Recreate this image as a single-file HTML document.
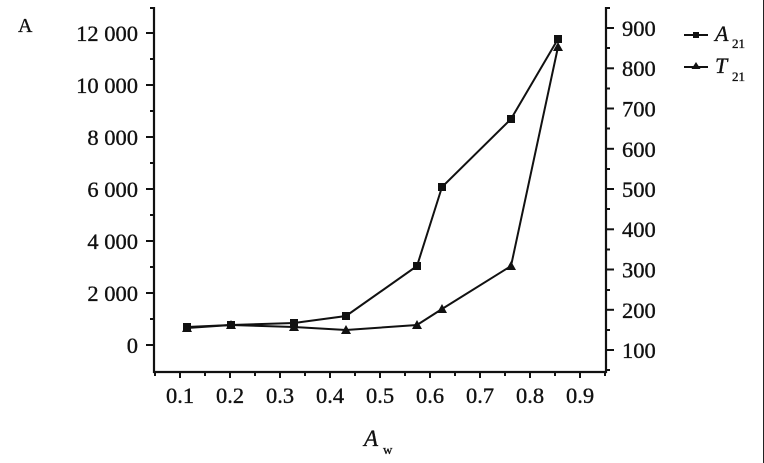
<!DOCTYPE html>
<html><head><meta charset="utf-8"><style>
html,body{margin:0;padding:0;background:#fff;}
svg{display:block;}
text{font-family:"Liberation Serif",serif;fill:#111;stroke:#111;stroke-width:0.35px;}
</style></head><body>
<svg width="764" height="463" viewBox="0 0 764 463" xmlns="http://www.w3.org/2000/svg">
<rect x="0" y="0" width="764" height="463" fill="#fff"/>
<line x1="763.5" y1="0" x2="763.5" y2="463" stroke="#222" stroke-width="1"/>
<text x="18" y="32" font-size="20">A</text>
<g stroke="#111" stroke-width="2.2" fill="none">
<line x1="154" y1="7" x2="154" y2="373"/>
<line x1="606" y1="7" x2="606" y2="373"/>
<line x1="153" y1="372" x2="607" y2="372"/>
</g>
<g stroke="#111" stroke-width="2">
<line x1="146" y1="345" x2="154" y2="345"/><line x1="146" y1="293" x2="154" y2="293"/><line x1="146" y1="241" x2="154" y2="241"/><line x1="146" y1="189" x2="154" y2="189"/><line x1="146" y1="137" x2="154" y2="137"/><line x1="146" y1="85" x2="154" y2="85"/><line x1="146" y1="33" x2="154" y2="33"/>
<line x1="150" y1="319" x2="154" y2="319"/><line x1="150" y1="267" x2="154" y2="267"/><line x1="150" y1="215" x2="154" y2="215"/><line x1="150" y1="163" x2="154" y2="163"/><line x1="150" y1="111" x2="154" y2="111"/><line x1="150" y1="59" x2="154" y2="59"/><line x1="150" y1="8" x2="154" y2="8"/>
<line x1="606" y1="350" x2="614" y2="350"/><line x1="606" y1="309.8" x2="614" y2="309.8"/><line x1="606" y1="269.5" x2="614" y2="269.5"/><line x1="606" y1="229.3" x2="614" y2="229.3"/><line x1="606" y1="189" x2="614" y2="189"/><line x1="606" y1="148.8" x2="614" y2="148.8"/><line x1="606" y1="108.5" x2="614" y2="108.5"/><line x1="606" y1="68.3" x2="614" y2="68.3"/><line x1="606" y1="28" x2="614" y2="28"/>
<line x1="606" y1="370" x2="610" y2="370"/><line x1="606" y1="330" x2="610" y2="330"/><line x1="606" y1="290" x2="610" y2="290"/><line x1="606" y1="249.5" x2="610" y2="249.5"/><line x1="606" y1="209" x2="610" y2="209"/><line x1="606" y1="169" x2="610" y2="169"/><line x1="606" y1="128.5" x2="610" y2="128.5"/><line x1="606" y1="88.5" x2="610" y2="88.5"/><line x1="606" y1="48" x2="610" y2="48"/><line x1="606" y1="8" x2="610" y2="8"/>
<line x1="180" y1="372" x2="180" y2="378"/><line x1="230" y1="372" x2="230" y2="378"/><line x1="280" y1="372" x2="280" y2="378"/><line x1="330" y1="372" x2="330" y2="378"/><line x1="380" y1="372" x2="380" y2="378"/><line x1="430" y1="372" x2="430" y2="378"/><line x1="480" y1="372" x2="480" y2="378"/><line x1="530" y1="372" x2="530" y2="378"/><line x1="580" y1="372" x2="580" y2="378"/>
<line x1="155" y1="372" x2="155" y2="376"/><line x1="205" y1="372" x2="205" y2="376"/><line x1="255" y1="372" x2="255" y2="376"/><line x1="305" y1="372" x2="305" y2="376"/><line x1="355" y1="372" x2="355" y2="376"/><line x1="405" y1="372" x2="405" y2="376"/><line x1="455" y1="372" x2="455" y2="376"/><line x1="505" y1="372" x2="505" y2="376"/><line x1="555" y1="372" x2="555" y2="376"/><line x1="605" y1="372" x2="605" y2="376"/>
</g>
<g font-size="22.5" text-anchor="end">
<text x="138" y="353">0</text>
<text x="138" y="301">2 000</text>
<text x="138" y="249">4 000</text>
<text x="138" y="197">6 000</text>
<text x="138" y="145">8 000</text>
<text x="138" y="93">10 000</text>
<text x="138" y="41">12 000</text>
</g>
<g font-size="22.5">
<text x="622" y="358">100</text>
<text x="622" y="318">200</text>
<text x="622" y="277.5">300</text>
<text x="622" y="237">400</text>
<text x="622" y="197">500</text>
<text x="622" y="157">600</text>
<text x="622" y="116.5">700</text>
<text x="622" y="76">800</text>
<text x="622" y="36">900</text>
</g>
<g font-size="22.5" text-anchor="middle">
<text x="180" y="403">0.1</text><text x="230" y="403">0.2</text><text x="280" y="403">0.3</text><text x="330" y="403">0.4</text><text x="380" y="403">0.5</text><text x="430" y="403">0.6</text><text x="480" y="403">0.7</text><text x="530" y="403">0.8</text><text x="580" y="403">0.9</text>
</g>
<text x="364" y="446" font-size="23" font-style="italic">A</text>
<text x="383" y="454" font-size="13">w</text>
<polyline points="187,327 231,325 294,323 346,316 417,266 442,187 511,119 558,39" fill="none" stroke="#111" stroke-width="2"/>
<polyline points="187,328 231,325 294,327 346,330 417,325 442,309 511,266 558,47" fill="none" stroke="#111" stroke-width="2"/>
<g fill="#111">
<rect x="183" y="323" width="8" height="8"/><rect x="227" y="321" width="8" height="8"/><rect x="290" y="319" width="8" height="9"/><rect x="342" y="312" width="8" height="8"/><rect x="413" y="262" width="8" height="8"/><rect x="438" y="183" width="8" height="8"/><rect x="507" y="115" width="8" height="8"/><rect x="554" y="35" width="8" height="8"/>
<path d="M187,323 L192,332 L182,332 Z"/><path d="M231,320 L236,329 L226,329 Z"/><path d="M294,322 L299,331 L289,331 Z"/><path d="M346,325 L351,334 L341,334 Z"/><path d="M417,320 L422,329 L412,329 Z"/><path d="M442,304 L447,313 L437,313 Z"/><path d="M511,261 L516,270 L506,270 Z"/><path d="M558,42 L563,51 L553,51 Z"/>
</g>
<line x1="684" y1="35" x2="708" y2="35" stroke="#111" stroke-width="2"/>
<rect x="693" y="32" width="6" height="6" fill="#111"/>
<line x1="684" y1="67" x2="708" y2="67" stroke="#111" stroke-width="2"/>
<path d="M696,62 L700.5,69 L691.5,69 Z" fill="#111"/>
<text x="715" y="41" font-size="22" font-style="italic">A</text>
<text x="732" y="48" font-size="13">21</text>
<text x="715" y="73" font-size="22" font-style="italic">T</text>
<text x="732" y="81" font-size="13">21</text>
</svg>
</body></html>
